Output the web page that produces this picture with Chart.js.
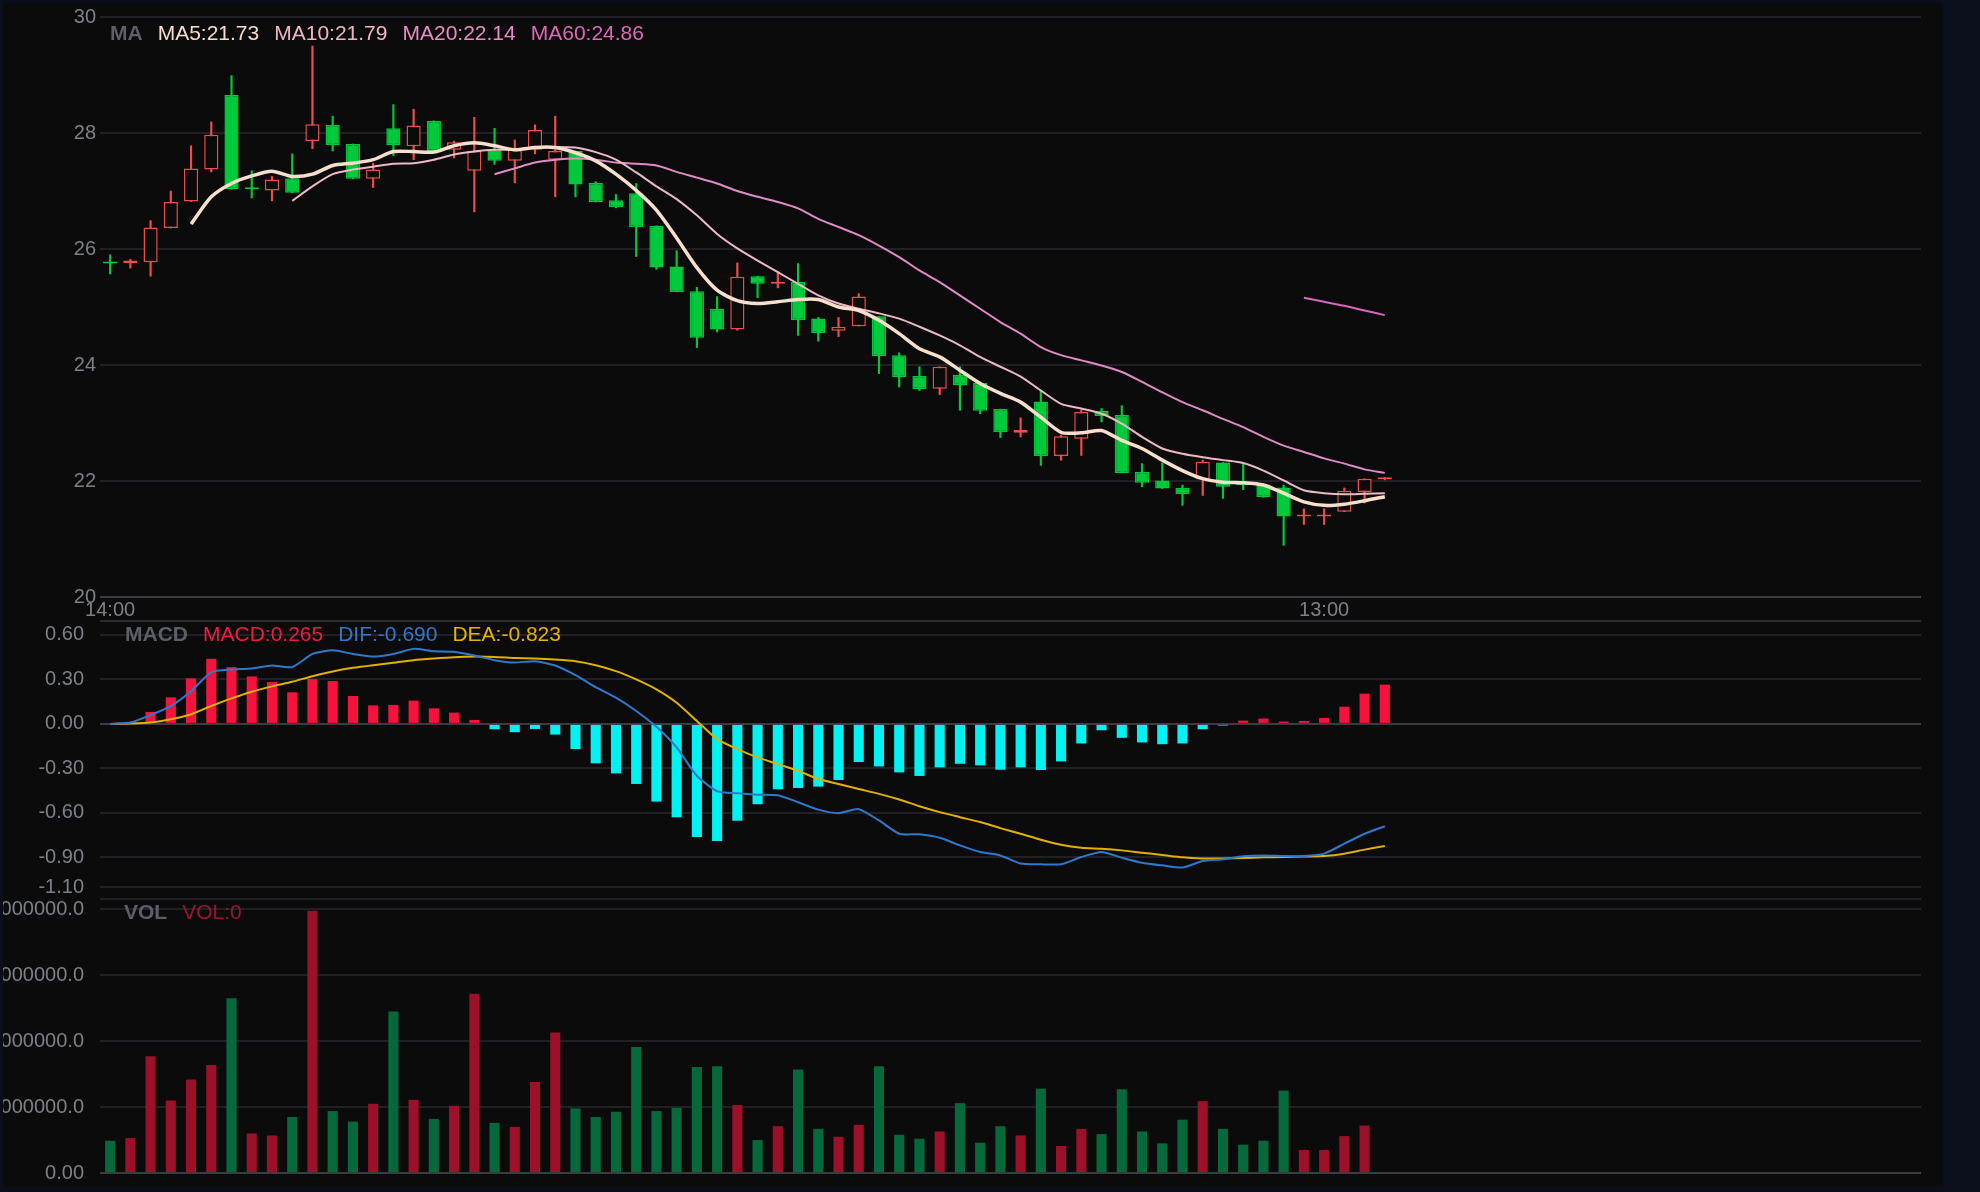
<!DOCTYPE html>
<html>
<head>
<meta charset="utf-8">
<script src="https://cdn.jsdelivr.net/npm/chart.js@4.4.1/dist/chart.umd.min.js"></script>
<style>
  html, body { margin: 0; padding: 0; background: #0b0f1c; }
  body { width: 1980px; height: 1192px; position: relative; overflow: hidden; }
  #panel { position: absolute; left: 3px; top: 3px; width: 1940px; height: 1184px; background: #0b0b0b; overflow: hidden; }
  #panel canvas { position: absolute; left: 0; }
</style>
</head>
<body>
<div id="panel">
  <canvas id="priceChart" width="1940" height="640" style="top:-6px"></canvas>
  <canvas id="macdChart" width="1940" height="326" style="top:588px"></canvas>
  <canvas id="volChart" width="1940" height="334" style="top:866px"></canvas>
</div>
<script>
// ---- data ----
const slotCount = 90;
const timeTicks = { 0: '14:00', 60: '13:00' };

const candleOpen = [25.77,25.76,25.77,26.36,26.82,27.37,28.66,27.04,27.01,27.22,
  27.86,28.14,27.81,27.21,28.08,27.77,28.21,27.71,27.35,27.70,
  27.52,27.71,27.54,27.69,27.14,26.84,26.96,26.40,25.70,25.27,
  24.97,24.61,25.53,25.40,25.43,24.80,24.59,24.67,24.84,24.17,
  23.81,23.59,23.83,23.69,23.24,22.83,23.37,22.43,22.73,23.21,
  23.14,22.16,22.01,21.88,22.03,22.32,21.95,21.94,21.89,21.39,
  21.39,21.47,21.81,22.03];
const candleHigh = [25.90,25.82,26.49,27.00,27.78,28.19,28.99,27.35,27.25,27.64,
  29.50,28.29,27.81,27.48,28.49,28.41,28.21,27.86,28.27,28.08,
  27.88,28.14,28.29,27.69,27.16,26.94,27.13,26.40,25.97,25.34,
  25.18,25.76,25.53,25.59,25.75,24.82,24.82,25.23,24.84,24.21,
  23.97,23.97,23.97,23.71,23.24,23.09,23.56,22.79,23.23,23.25,
  23.30,22.30,22.31,21.93,22.36,22.32,22.29,21.96,21.93,21.52,
  21.52,21.88,22.04,22.06];
const candleLow = [25.57,25.67,25.53,26.36,26.82,27.33,27.03,26.88,26.83,26.97,
  27.73,27.69,27.21,27.06,27.61,27.54,27.66,27.57,26.64,27.46,
  27.14,27.64,26.90,26.90,26.81,26.71,25.87,25.65,25.26,24.30,
  24.57,24.60,25.16,25.33,24.51,24.41,24.49,24.67,23.85,23.62,
  23.56,23.49,23.22,23.16,22.75,22.76,22.27,22.36,22.44,23.02,
  22.14,21.90,21.87,21.58,21.75,21.70,21.85,21.72,20.89,21.25,
  21.25,21.47,21.62,22.02];
const candleClose = [25.75,25.80,26.37,26.81,27.39,27.97,27.03,27.03,27.20,26.97,
  28.15,27.79,27.21,27.37,27.79,28.13,27.69,27.84,27.69,27.52,
  27.71,28.05,27.69,27.11,26.81,26.72,26.38,25.68,25.26,24.47,
  24.61,25.52,25.40,25.42,24.77,24.55,24.66,25.18,24.15,23.79,
  23.58,23.97,23.65,23.21,22.84,22.88,22.43,22.77,23.19,23.12,
  22.14,21.97,21.87,21.77,22.33,21.90,21.93,21.72,21.39,21.41,
  21.41,21.83,22.04,22.05];

function lead(n, values) { return new Array(n).fill(null).concat(values); }

const ma5 = lead(4, [26.43,26.90,27.13,27.26,27.34,27.25,27.29,27.44,27.48,27.54,
  27.68,27.68,27.67,27.78,27.83,27.78,27.71,27.75,27.75,27.66,
  27.52,27.29,27.01,26.67,26.19,25.68,25.29,25.11,25.06,25.09,
  25.13,25.13,25.00,24.94,24.77,24.54,24.28,24.14,23.91,23.68,
  23.51,23.36,23.10,22.84,22.83,22.87,22.70,22.56,22.36,22.18,
  22.04,21.98,21.97,21.93,21.79,21.64,21.58,21.60,21.66,21.73]);
const ma10 = lead(9, [26.83,27.08,27.29,27.37,27.42,27.47,27.48,27.54,27.63,27.68,
  27.71,27.71,27.75,27.76,27.75,27.67,27.54,27.32,27.08,26.86,
  26.58,26.26,26.01,25.80,25.60,25.40,25.20,25.06,24.97,24.89,
  24.80,24.66,24.51,24.34,24.14,23.97,23.80,23.56,23.33,23.25,
  23.16,22.99,22.76,22.56,22.47,22.41,22.36,22.31,22.18,22.01,
  21.84,21.79,21.77,21.78,21.79]);
const ma20 = lead(19, [27.29,27.39,27.49,27.54,27.56,27.54,27.49,27.47,27.44,27.33,
  27.23,27.13,27.00,26.90,26.81,26.70,26.52,26.38,26.24,26.06,
  25.86,25.63,25.43,25.20,24.97,24.74,24.54,24.31,24.17,24.08,
  23.99,23.88,23.71,23.53,23.36,23.22,23.07,22.93,22.76,22.61,
  22.50,22.39,22.30,22.20,22.14]);
const ma60 = lead(59, [25.16,25.09,25.02,24.94,24.86]);

const macdHist = [0,0.005,0.081,0.179,0.307,0.439,0.383,0.320,0.282,0.213,
  0.302,0.289,0.188,0.125,0.128,0.157,0.105,0.076,0.027,-0.036,
  -0.056,-0.034,-0.072,-0.170,-0.266,-0.334,-0.405,-0.524,-0.629,-0.763,
  -0.790,-0.654,-0.542,-0.441,-0.432,-0.423,-0.378,-0.257,-0.287,-0.327,
  -0.351,-0.293,-0.269,-0.280,-0.309,-0.293,-0.311,-0.253,-0.132,-0.043,
  -0.094,-0.125,-0.137,-0.132,-0.036,-0.011,0.022,0.036,0.016,0.020,
  0.040,0.116,0.204,0.265];
const difLine = [0,0.009,0.06,0.12,0.22,0.35,0.367,0.374,0.394,0.383,
  0.472,0.497,0.472,0.454,0.472,0.506,0.490,0.486,0.461,0.430,
  0.414,0.423,0.394,0.329,0.248,0.177,0.087,-0.020,-0.159,-0.35,
  -0.454,-0.468,-0.477,-0.481,-0.528,-0.578,-0.602,-0.575,-0.651,-0.741,
  -0.745,-0.768,-0.819,-0.864,-0.887,-0.942,-0.947,-0.947,-0.898,-0.864,
  -0.902,-0.936,-0.954,-0.969,-0.925,-0.913,-0.893,-0.887,-0.891,-0.891,
  -0.875,-0.808,-0.741,-0.690];
const deaLine = [0,0.002,0.009,0.031,0.065,0.121,0.172,0.217,0.253,0.284,
  0.322,0.354,0.378,0.396,0.412,0.430,0.441,0.450,0.454,0.452,
  0.445,0.441,0.434,0.423,0.396,0.356,0.300,0.233,0.143,0.02,
  -0.103,-0.170,-0.226,-0.271,-0.316,-0.372,-0.405,-0.439,-0.472,-0.510,
  -0.555,-0.595,-0.629,-0.662,-0.703,-0.741,-0.781,-0.815,-0.835,-0.842,
  -0.853,-0.869,-0.884,-0.900,-0.907,-0.907,-0.904,-0.900,-0.898,-0.895,
  -0.891,-0.875,-0.848,-0.823];

const volume = [4900000,5300000,17700000,11000000,14200000,16400000,26500000,6000000,5700000,8500000,
  39800000,9400000,7800000,10500000,24500000,11100000,8200000,10200000,27200000,7600000,
  7000000,13800000,21300000,9800000,8500000,9300000,19100000,9400000,9900000,16100000,
  16200000,10300000,5000000,7100000,15700000,6700000,5500000,7300000,16200000,5800000,
  5200000,6300000,10600000,4600000,7100000,5700000,12800000,4100000,6700000,5900000,
  12700000,6300000,4500000,8100000,10900000,6700000,4300000,4900000,12500000,3500000,
  3500000,5600000,7200000,0];
// 1 = red (up) volume bar, 0 = green
const volumeUp = [0,1,1,1,1,1,0,1,1,0,1,0,0,1,0,1,0,1,1,0,
  1,1,1,0,0,0,0,0,0,0,0,1,0,1,0,0,1,1,0,0,
  0,1,0,0,0,1,0,1,1,0,0,0,0,0,1,0,0,0,0,1,
  1,1,1,1];

const priceTicks = { min: 20, max: 30, step: 2 };
const macdTickValues = [0.694, 0.6, 0.3, 0, -0.3, -0.6, -0.9, -1.1];
const volTickValues = [41570000, 40000000, 30000000, 20000000, 10000000, 0];

// ---- styling ----
const FONT = '"Liberation Sans", Arial, sans-serif';
const BG = '#0b0b0b';
const UP = '#ef4d4d';
const DOWN = '#00c93c';
const TICK = '#7c8089';
const DIM = '#212125';
const MID = '#2b2b30';
const BRIGHT = '#3b3b42';
const LABEL_GRAY = '#5b5f67';

Chart.defaults.font.family = FONT;
Chart.defaults.animation = false;

const xLabels = Array.from({ length: slotCount }, (_, i) => timeTicks[i] || '');
const isUp = i => candleClose[i] >= candleOpen[i];

const headerPlugin = {
    id: 'header',
    afterDraw(chart, args, opts) {
        const ctx = chart.ctx;
        let x = chart.chartArea.left + opts.offsetX;
        const y = chart.chartArea.top + opts.offsetY;
        ctx.save();
        ctx.textBaseline = 'middle';
        ctx.textAlign = 'left';
        opts.items.forEach(item => {
            ctx.font = (item.bold ? 'bold ' : '') + '21px ' + FONT;
            ctx.fillStyle = item.color;
            ctx.fillText(item.text, x, y);
            x += ctx.measureText(item.text).width + 15;
        });
        ctx.restore();
    }
};

function xHidden() {
    return { type: 'category', labels: xLabels, offset: true, display: false };
}

function yBase(padding) {
    return {
        afterFit(scale) { scale.width = 97; },
        border: { display: false },
        ticks: { color: TICK, font: { size: 20 }, padding: padding, autoSkip: false }
    };
}

const commonOptions = {
    responsive: false,
    events: [],
    plugins: { legend: { display: false }, tooltip: { enabled: false } }
};

// ---- price chart ----
const last = a => a[a.length - 1];
new Chart(document.getElementById('priceChart'), {
    type: 'bar',
    data: {
        labels: xLabels,
        datasets: [
            { type: 'line', data: ma5, borderColor: '#f7dfcc', borderWidth: 3.5, pointRadius: 0, tension: 0.25, order: 0 },
            { type: 'line', data: ma10, borderColor: '#ebbac6', borderWidth: 2, pointRadius: 0, tension: 0.25, order: 0 },
            { type: 'line', data: ma20, borderColor: '#e08ac6', borderWidth: 2, pointRadius: 0, tension: 0.25, order: 0 },
            { type: 'line', data: ma60, borderColor: '#d968bd', borderWidth: 2, pointRadius: 0, tension: 0.25, order: 0 },
            {
                data: candleOpen.map((o, i) => [o, candleClose[i]]),
                backgroundColor: ctx => isUp(ctx.dataIndex) ? BG : DOWN,
                borderColor: ctx => isUp(ctx.dataIndex) ? UP : DOWN,
                borderWidth: 1.5, borderSkipped: false,
                barPercentage: 0.7, categoryPercentage: 1, grouped: false,
                minBarLength: 2, order: 1
            },
            {
                data: candleLow.map((l, i) => [l, candleHigh[i]]),
                backgroundColor: ctx => isUp(ctx.dataIndex) ? UP : DOWN,
                barThickness: 1.5, grouped: false, order: 2
            }
        ]
    },
    options: {
        ...commonOptions,
        layout: { padding: { top: 20, right: 22, left: 0, bottom: 0 } },
        plugins: {
            ...commonOptions.plugins,
            header: {
                offsetX: 10, offsetY: 17,
                items: [
                    { text: 'MA', color: LABEL_GRAY, bold: true },
                    { text: 'MA5:' + last(ma5).toFixed(2), color: '#f7dccb' },
                    { text: 'MA10:' + last(ma10).toFixed(2), color: '#f0b6c4' },
                    { text: 'MA20:' + last(ma20).toFixed(2), color: '#e98cc6' },
                    { text: 'MA60:' + last(ma60).toFixed(2), color: '#e067ba' }
                ]
            }
        },
        scales: {
            x: {
                type: 'category', offset: true,
                afterFit(scale) { scale.height = 40; },
                grid: { display: false, drawTicks: false },
                border: { display: false },
                ticks: { autoSkip: false, maxRotation: 0, color: TICK, font: { size: 20 }, padding: 1,
                    callback: (v, i) => xLabels[i] }
            },
            y: {
                ...yBase(4),
                min: priceTicks.min, max: priceTicks.max, beginAtZero: false,
                ticks: { ...yBase(4).ticks, stepSize: priceTicks.step },
                grid: { color: ctx => ctx.tick && ctx.tick.value === priceTicks.min ? BRIGHT : DIM, lineWidth: 2, drawTicks: false }
            }
        }
    },
    plugins: [headerPlugin]
});

// ---- MACD chart ----
const macdTop = macdTickValues[0];
new Chart(document.getElementById('macdChart'), {
    type: 'bar',
    data: {
        labels: xLabels,
        datasets: [
            { type: 'line', data: difLine, borderColor: '#2f79cd', borderWidth: 2, pointRadius: 0, tension: 0.2, order: 0 },
            { type: 'line', data: deaLine, borderColor: '#e2b100', borderWidth: 2, pointRadius: 0, tension: 0.2, order: 0 },
            {
                data: macdHist,
                backgroundColor: ctx => macdHist[ctx.dataIndex] >= 0 ? '#f7113d' : '#00f2f2',
                barPercentage: 0.5, categoryPercentage: 1, grouped: false, order: 1
            }
        ]
    },
    options: {
        ...commonOptions,
        layout: { padding: { top: 30, right: 22, left: 0, bottom: 30 } },
        plugins: {
            ...commonOptions.plugins,
            header: {
                offsetX: 25, offsetY: 14,
                items: [
                    { text: 'MACD', color: LABEL_GRAY, bold: true },
                    { text: 'MACD:' + last(macdHist).toFixed(3), color: '#ee1c45' },
                    { text: 'DIF:' + last(difLine).toFixed(3), color: '#2f78cc' },
                    { text: 'DEA:' + last(deaLine).toFixed(3), color: '#e5b300' }
                ]
            }
        },
        scales: {
            x: xHidden(),
            y: {
                ...yBase(16),
                min: last(macdTickValues), max: macdTop, beginAtZero: false,
                afterBuildTicks(scale) { scale.ticks = macdTickValues.map(v => ({ value: v })); },
                ticks: { ...yBase(16).ticks, callback: v => v === macdTop ? '' : Number(v).toFixed(2) },
                grid: {
                    color: ctx => !ctx.tick ? DIM : ctx.tick.value === 0 ? BRIGHT : ctx.tick.value === macdTop ? MID : DIM,
                    lineWidth: 2, drawTicks: false
                }
            }
        }
    },
    plugins: [headerPlugin]
});

// ---- volume chart ----
const volTop = volTickValues[0];
new Chart(document.getElementById('volChart'), {
    type: 'bar',
    data: {
        labels: xLabels,
        datasets: [{
            data: volume,
            backgroundColor: ctx => volumeUp[ctx.dataIndex] ? '#9c1029' : '#05693b',
            barPercentage: 0.5, categoryPercentage: 1
        }]
    },
    options: {
        ...commonOptions,
        layout: { padding: { top: 30, right: 22, left: 0, bottom: 30 } },
        plugins: {
            ...commonOptions.plugins,
            header: {
                offsetX: 24, offsetY: 14,
                items: [
                    { text: 'VOL', color: LABEL_GRAY, bold: true },
                    { text: 'VOL:' + last(volume), color: '#9a1530' }
                ]
            }
        },
        scales: {
            x: xHidden(),
            y: {
                ...yBase(16),
                min: 0, max: volTop,
                afterBuildTicks(scale) { scale.ticks = volTickValues.map(v => ({ value: v })); },
                ticks: { ...yBase(16).ticks, callback: v => v === volTop ? '' : (v === 0 ? '0.00' : Number(v).toFixed(1)) },
                grid: {
                    color: ctx => ctx.tick && ctx.tick.value === 0 ? BRIGHT : DIM,
                    lineWidth: 2, drawTicks: false
                }
            }
        }
    },
    plugins: [headerPlugin]
});
</script>
</body>
</html>
